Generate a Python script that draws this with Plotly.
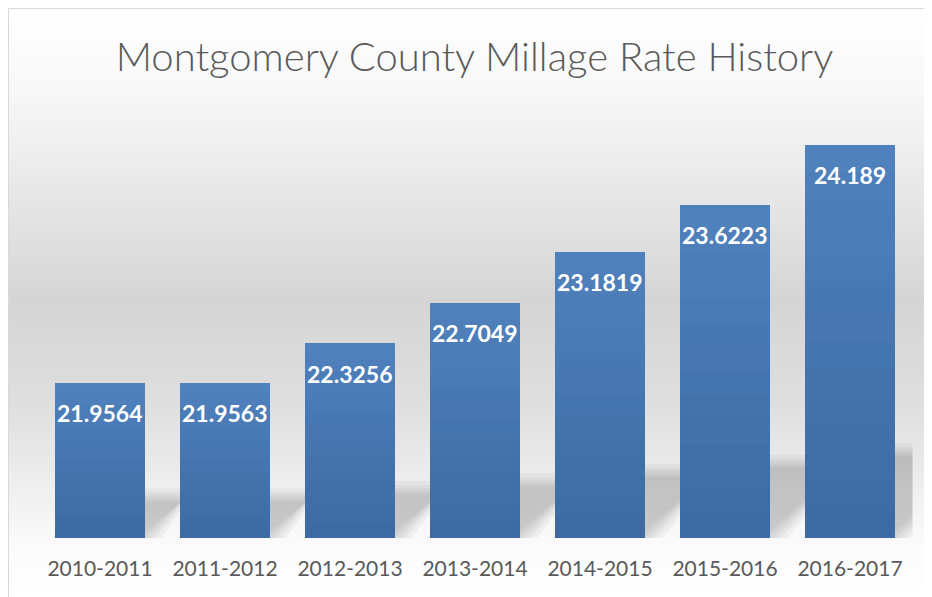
import plotly.graph_objects as go

# ---------------- data ----------------
periods = ["2010-2011", "2011-2012", "2012-2013", "2013-2014",
           "2014-2015", "2015-2016", "2016-2017"]
rates = [21.9564, 21.9563, 22.3256, 22.7049, 23.1819, 23.6223, 24.189]
rate_labels = ["21.9564", "21.9563", "22.3256", "22.7049",
               "23.1819", "23.6223", "24.189"]
chart_title = "Montgomery County Millage Rate History"

# ---------------- layout constants ----------------
# page body has an 8px margin: the figure is placed at (8, 8)
OFF = 8
W, H = 932 - OFF, 597 - OFF
Y_MIN, Y_MAX = 20.5, 24.5
PL, PR, PT, PB = 37.5 - OFF, 912.5 - OFF, 112.0 - OFF, 538.0 - OFF   # plot area in px
BAR_W = 0.72

xs = list(range(len(periods)))
x_per_px = (len(periods)) / (PR - PL)
y_per_px = (Y_MAX - Y_MIN) / (PB - PT)

fig = go.Figure()

# bars with a vertical gradient (overlaid slices, dark bottom -> light top)
top_c = (79, 129, 189)
bot_c = (61, 106, 162)
N = 14
for k in range(N):
    f = k / N
    t = k / (N - 1)
    c = tuple(round(bot_c[j] + (top_c[j] - bot_c[j]) * t) for j in range(3))
    bases = [Y_MIN + (v - Y_MIN) * f for v in rates]
    heights = [(v - Y_MIN) * (1 - f) for v in rates]
    fig.add_trace(go.Bar(
        x=xs, y=heights, base=bases, width=BAR_W,
        marker=dict(color="rgb(%d,%d,%d)" % c, line=dict(width=0)),
        hoverinfo="skip", showlegend=False))

shapes = []

# background gradient (paper strips), stops in page px
stops = [(7, 255), (90, 248), (200, 230), (300, 213), (400, 222),
         (470, 235), (540, 250), (597, 255)]


def gray_at(ypx):
    for (y0, g0), (y1, g1) in zip(stops[:-1], stops[1:]):
        if y0 <= ypx <= y1:
            return g0 + (g1 - g0) * (ypx - y0) / (y1 - y0)
    return 255


step = 3
y = 0
while y < H:
    g = round(gray_at(y + OFF + step / 2))
    shapes.append(dict(type="rect", xref="paper", yref="paper", layer="below",
                       x0=0, x1=1.0, y0=1 - (y + step) / H, y1=1 - y / H,
                       fillcolor="rgb(%d,%d,%d)" % (g, g, g), line=dict(width=0)))
    y += step

# border of chart area
shapes.append(dict(type="rect", xref="paper", yref="paper", layer="below",
                   x0=0.5 / W, x1=1.02, y0=-0.02, y1=1 - 0.5 / H,
                   fillcolor="rgba(0,0,0,0)", line=dict(color="#d9d9d9", width=1)))

# perspective shadows behind the bars (soft, layered)
for xi, v in zip(xs, rates):
    h_px = (v - Y_MIN) / y_per_px
    hs = 0.19 * h_px + 10
    d = hs
    for e in (10, 6, 3, 0, -3):
        L = xi - BAR_W / 2 - e * x_per_px
        R = xi + BAR_W / 2 + e * x_per_px
        yb = Y_MIN - e * y_per_px
        yt = Y_MIN + (hs + e) * y_per_px
        dx = d * x_per_px
        path = "M %f,%f L %f,%f L %f,%f L %f,%f Z" % (L, yb, R, yb, R + dx, yt, L + dx, yt)
        shapes.append(dict(type="path", xref="x", yref="y", layer="below", path=path,
                           fillcolor="rgba(0,0,0,0.04)", line=dict(width=0)))

# value labels inside bar tops
annotations = []
for xi, v, t in zip(xs, rates, rate_labels):
    annotations.append(dict(x=xi, y=v, xref="x", yref="y", text=t, showarrow=False,
                            yanchor="middle", yshift=-30,
                            font=dict(family="Lato", size=23, color="white", weight="bold")))

fig.update_layout(
    width=W, height=H,
    margin=dict(l=0, r=0, t=0, b=0),
    paper_bgcolor="white", plot_bgcolor="rgba(0,0,0,0)",
    barmode="overlay",
    showlegend=False,
    title=dict(text=chart_title, x=(474.5 - OFF) / W, xanchor="center",
               y=1 - (57 - OFF) / H, yanchor="middle",
               font=dict(family="Lato", size=40, color="#595959", weight=300)),
    xaxis=dict(domain=[PL / W, PR / W], range=[-0.5, len(periods) - 0.5],
               tickmode="array", tickvals=xs, ticktext=periods,
               showgrid=False, zeroline=False, showline=False, ticks="",
               tickfont=dict(family="Lato", size=21, color="#595959"),
               ticklabelstandoff=16, automargin=False, fixedrange=True),
    yaxis=dict(domain=[1 - PB / H, 1 - PT / H], range=[Y_MIN, Y_MAX],
               showgrid=False, zeroline=False, showline=False, showticklabels=False,
               ticks="", automargin=False, fixedrange=True),
    shapes=shapes,
    annotations=annotations,
)

fig.write_html("out.html")
